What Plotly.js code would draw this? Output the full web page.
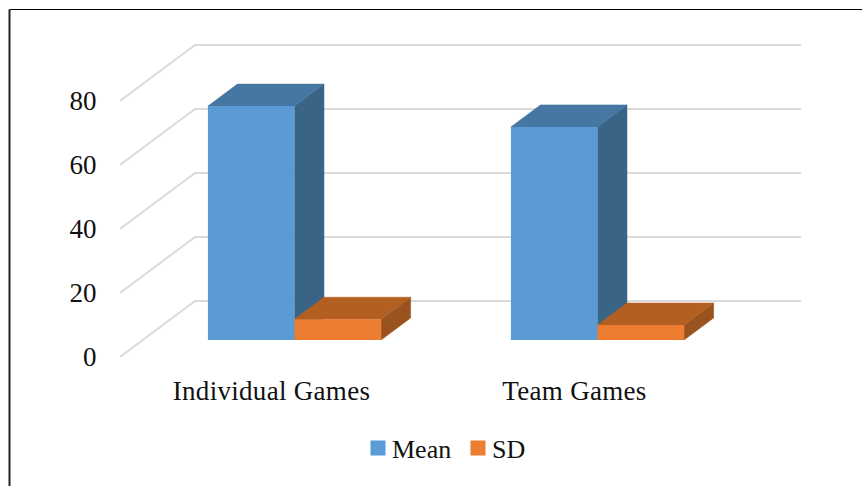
<!DOCTYPE html>
<html>
<head>
<meta charset="utf-8">
<script src="https://cdn.plot.ly/plotly-3.0.1.min.js"></script>
<style>
html,body{margin:0;padding:0;background:#fff;}
#chart{width:862px;height:486px;}
.legendpoints path{transform:translate(26px,0) scale(1.25);}
.xtick text{letter-spacing:0.3px;}
</style>
</head>
<body>
<div id="chart"></div>
<script>
// Data
const categories = ["Individual Games", "Team Games"];
const meanValues = [73.1, 66.6];
const sdValues = [6.5, 4.7];
const axisTicks = [0, 20, 40, 60, 80];

// Chart geometry
const W = 862, H = 486, mL = 120, mR = 40, mT = 30, mB = 129;
const pxPerCat = 303, pxPerUnit = 3.2;
const plotW = W - mL - mR, plotH = H - mT - mB;
const xMin = -0.5, xMax = xMin + plotW / pxPerCat, yMax = plotH / pxPerUnit;
const gridEnd = xMin + 681 / pxPerCat;                      // right end of the back wall
const wallDX = 75 / pxPerCat, wallDY = 56 / pxPerUnit;      // floor depth
const barW = 86.6 / pxPerCat, barShift = 23 / pxPerCat;     // bar front size / shift
const floorY = 17 / pxPerUnit;                              // front base above axis
const barDX = 29.5 / pxPerCat, barDY = 22 / pxPerUnit;      // bar depth

const FONT = "Liberation Serif, Cambria, serif";
const GRID = "#DADADA";
const traces = [];

function poly(xs, ys, color) {
  return {type: "scatter", mode: "lines", x: xs, y: ys, fill: "toself", fillcolor: color,
          line: {color: color, width: 0.5}, hoverinfo: "skip", showlegend: false,
          cliponaxis: false, zorder: 1};
}

// Gridlines: diagonal on the side wall, horizontal on the back wall
axisTicks.forEach(t => {
  traces.push({type: "scatter", mode: "lines",
    x: [xMin, xMin + wallDX, gridEnd], y: [t, t + wallDY, t + wallDY],
    line: {color: GRID, width: 2}, hoverinfo: "skip", showlegend: false,
    cliponaxis: false, zorder: 0});
});

// 3D faces of the boxes
function addBox(x0, x1, v, top, side) {
  const b = floorY, h = floorY + v;
  traces.push(poly([x1, x1 + barDX, x1 + barDX, x1, x1], [b, b + barDY, h + barDY, h, b], side));
  traces.push(poly([x0, x0 + barDX, x1 + barDX, x1, x0], [h, h + barDY, h + barDY, h, h], top));
}
categories.forEach((c, i) => {
  addBox(i + barShift - barW, i + barShift, meanValues[i], "#4676A2", "#3A6486");
  addBox(i + barShift, i + barShift + barW, sdValues[i], "#B45F22", "#9A531E");
});

// Front faces
traces.push({type: "bar", name: "Mean",
  x: categories.map((c, i) => i + barShift - barW / 2), y: meanValues, base: floorY, width: barW,
  marker: {color: "#5B9BD5", line: {width: 0}}, zorder: 2, hoverinfo: "y"});
traces.push({type: "bar", name: "SD",
  x: categories.map((c, i) => i + barShift + barW / 2), y: sdValues, base: floorY, width: barW,
  marker: {color: "#ED7D31", line: {width: 0}}, zorder: 2, hoverinfo: "y"});

const layout = {
  width: W, height: H, autosize: false,
  margin: {l: mL, r: mR, t: mT, b: mB, pad: 0},
  paper_bgcolor: "#fff", plot_bgcolor: "rgba(0,0,0,0)",
  barmode: "overlay",
  font: {family: FONT, size: 27, color: "#111"},
  xaxis: {range: [xMin, xMax], tickmode: "array", tickvals: categories.map((c, i) => i), ticktext: categories,
          showgrid: false, zeroline: false, showline: false, ticks: "outside", ticklen: 10,
          tickcolor: "rgba(0,0,0,0)", fixedrange: true, tickfont: {family: FONT, size: 27, color: "#111"}},
  yaxis: {range: [0, yMax], tickmode: "array", tickvals: axisTicks, ticktext: axisTicks.map(String),
          showgrid: false, zeroline: false, showline: false, ticks: "outside", ticklen: 17,
          tickcolor: "rgba(0,0,0,0)", fixedrange: true, tickfont: {family: FONT, size: 27, color: "#111"}},
  legend: {orientation: "h", x: (357 - mL) / plotW, xanchor: "left",
           y: -(448 - (H - mB)) / plotH, yanchor: "middle",
           font: {family: FONT, size: 26, color: "#111"}, bgcolor: "rgba(0,0,0,0)",
           indentation: -5, entrywidth: 60, entrywidthmode: "pixels", traceorder: "normal"},
  shapes: [
    {type: "line", xref: "paper", yref: "paper",
     x0: (9.5 - mL) / plotW, x1: (W - mL) / plotW, y0: 1 + (mT - 9.5) / plotH, y1: 1 + (mT - 9.5) / plotH,
     line: {color: "#000", width: 1.2}},
    {type: "line", xref: "paper", yref: "paper",
     x0: (9.5 - mL) / plotW, x1: (9.5 - mL) / plotW, y0: 1 + (mT - 9.5) / plotH, y1: -mB / plotH,
     line: {color: "#222", width: 2}}
  ]
};

Plotly.newPlot("chart", traces, layout, {displayModeBar: false, staticPlot: true});
</script>
</body>
</html>
